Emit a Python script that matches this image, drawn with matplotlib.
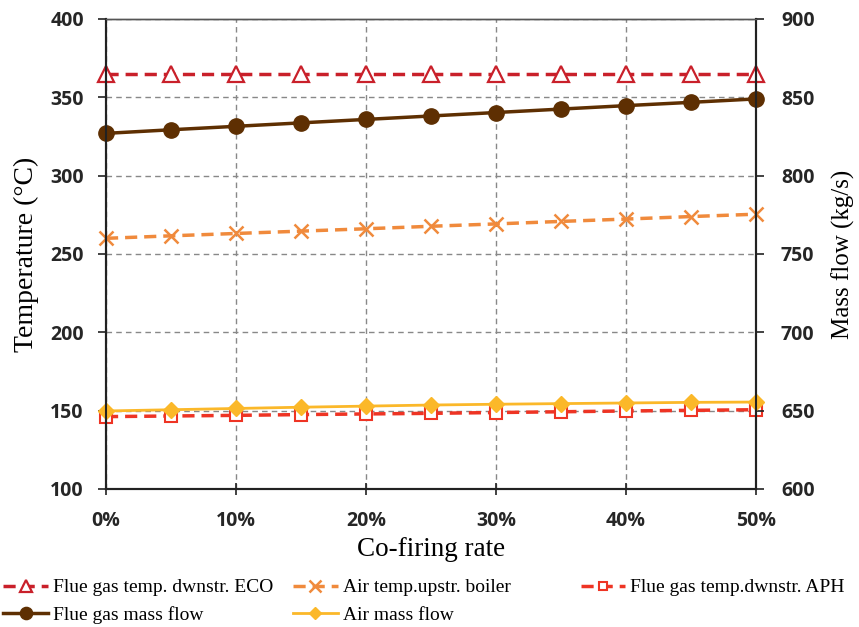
import numpy as np
import matplotlib.pyplot as plt
from matplotlib.ticker import FuncFormatter

# datos
rate = [0, 5, 10, 15, 20, 25, 30, 35, 40, 45, 50]
t_eco = [365.0, 365.0, 365.0, 365.0, 365.0, 365.0, 365.0, 365.0, 365.0, 365.0, 365.0]
t_air = [260.0, 261.6, 263.1, 264.6, 266.1, 267.7, 269.2, 270.8, 272.3, 273.9, 275.4]
t_aph = [146.2, 146.6, 147.0, 147.5, 147.9, 148.3, 148.8, 149.3, 149.8, 150.2, 150.6]
m_flue = [827.0, 829.3, 831.5, 833.7, 835.9, 838.1, 840.3, 842.5, 844.7, 846.8, 849.0]
m_air = [649.8, 650.6, 651.4, 652.2, 652.9, 653.6, 654.1, 654.5, 654.9, 655.3, 655.5]

labels = ['Flue gas temp. dwnstr. ECO', 'Air temp.upstr. boiler', 'Flue gas temp.dwnstr. APH',
          'Flue gas mass flow', 'Air mass flow']

serif = 'Liberation Serif'
tickfont = {'family': 'Open Sans', 'weight': 'bold', 'size': 14}

fig = plt.figure(figsize=(8.59, 6.27), dpi=100)
ax = fig.add_axes([0.1234, 0.2201, 0.7566, 0.7496])
ax2 = ax.twinx()

l1, = ax.plot(rate, t_eco, color='#C9202A', lw=2.5, dashes=(3.5, 2), marker='^', ms=11,
              mfc='white', mec='#C9202A', mew=1.6, label=labels[0], clip_on=False)
l2, = ax.plot(rate, t_air, color='#F08A3C', lw=2.5, dashes=(3.5, 2), marker='x', ms=10,
              mew=1.8, label=labels[1], clip_on=False)
l3, = ax.plot(rate, t_aph, color='#EE3424', lw=2.5, dashes=(3.5, 2), marker='s', ms=8,
              mfc='white', mec='#EE3424', mew=1.5, label=labels[2], clip_on=False)
l4, = ax2.plot(rate, m_flue, color='#5E2F02', lw=2.5, marker='o', ms=11, label=labels[3],
               clip_on=False)
l5, = ax2.plot(rate, m_air, color='#FBB829', lw=2, marker='D', ms=8, label=labels[4],
               clip_on=False)

ax.set_xlim(0, 50)
ax.set_ylim(100, 400)
ax2.set_ylim(600, 900)
ax.set_xticks(np.arange(0, 51, 10))
ax.set_yticks(np.arange(100, 401, 50))
ax2.set_yticks(np.arange(600, 901, 50))
ax.xaxis.set_major_formatter(FuncFormatter(lambda v, p: '%d%%' % v))

ax.grid(True, color='#888888', ls=(0, (4, 3)), lw=1)
ax.set_axisbelow(True)

for a in (ax, ax2):
    for s in ('left', 'right', 'bottom'):
        a.spines[s].set_color('#222222')
        a.spines[s].set_linewidth(1.5)
    a.spines['top'].set_color('#555555')
    a.spines['top'].set_linewidth(1)

ax.tick_params(axis='y', direction='out', length=6, width=1.2, color='#222222', pad=10)
ax.tick_params(axis='x', direction='inout', length=8, width=1.2, color='#222222', pad=12)
ax2.tick_params(axis='y', direction='out', length=6, width=1.2, color='#222222', pad=12)
for t in ax.get_xticklabels() + ax.get_yticklabels() + ax2.get_yticklabels():
    t.set_fontfamily(tickfont['family'])
    t.set_fontweight(tickfont['weight'])
    t.set_fontsize(tickfont['size'])
    t.set_color('#262626')

ax.set_xlabel('Co-firing rate', family=serif, fontsize=19.5, labelpad=4)
ax.set_ylabel('Temperature (°C)', family=serif, fontsize=20, labelpad=8)
ax2.set_ylabel('Mass flow (kg/s)', family=serif, fontsize=18, labelpad=12)

leg_kw = dict(frameon=False, prop={'family': serif, 'size': 14}, borderpad=0, borderaxespad=0,
              handlelength=2.3, handletextpad=0.25, labelspacing=0.5, loc='upper left',
              markerscale=0.8)
fig.legend([l1, l4], [labels[0], labels[3]], bbox_to_anchor=(0.004, 0.077), **leg_kw)
fig.legend([l2, l5], [labels[1], labels[4]], bbox_to_anchor=(0.341, 0.077), **leg_kw)
fig.legend([l3], [labels[2]], bbox_to_anchor=(0.676, 0.077), **leg_kw)

fig.savefig('out.png', dpi=100)
